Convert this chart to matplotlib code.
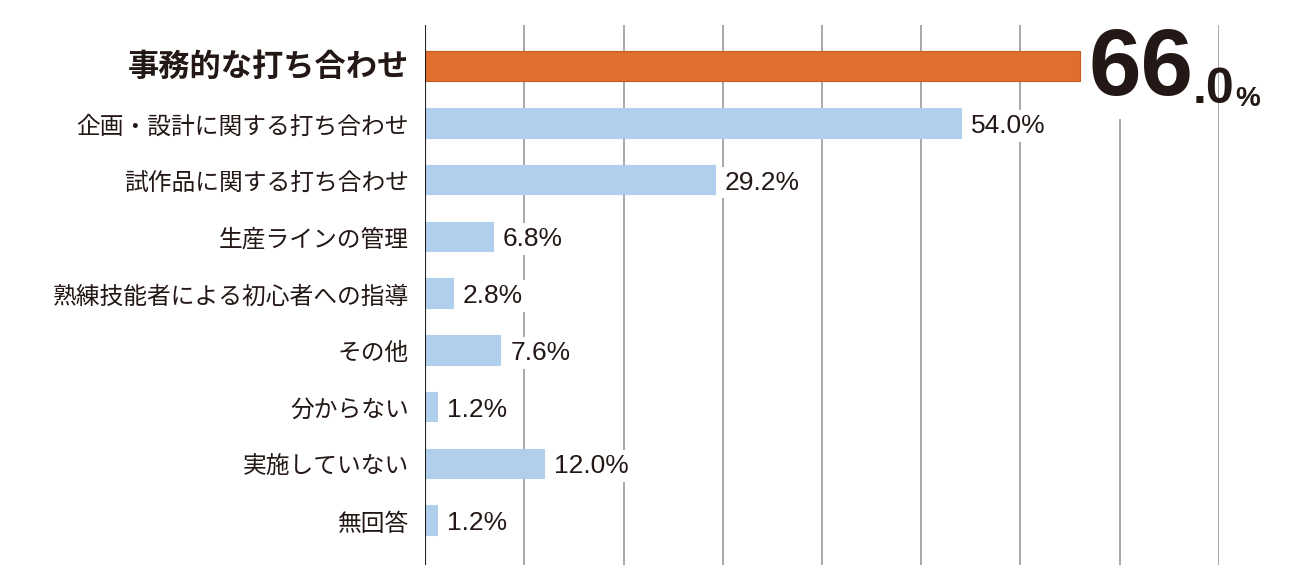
import matplotlib
matplotlib.use('Agg')
import matplotlib.pyplot as plt
import numpy as np

# Survey answers (%), top to bottom
categories = ['事務的な打ち合わせ', '企画・設計に関する打ち合わせ', '試作品に関する打ち合わせ',
              '生産ラインの管理', '熟練技能者による初心者への指導', 'その他',
              '分からない', '実施していない', '無回答']
values = [66.0, 54.0, 29.2, 6.8, 2.8, 7.6, 1.2, 12.0, 1.2]

orange = '#E06F2E'
blue = '#B0CFEC'
jp_font = ['Noto Sans CJK JP', 'DejaVu Sans']
num_font = ['Liberation Sans', 'DejaVu Sans']

fig = plt.figure(figsize=(12.95, 5.88), dpi=100)
ax = fig.add_axes([0.3282, 0.039, 0.6131, 0.918])

y = np.arange(len(categories))
colors = [orange] + [blue] * (len(categories) - 1)
edges = ['#C85A1E'] + [blue] * (len(categories) - 1)
ax.barh(y, values, height=0.52, color=colors, edgecolor=edges, linewidth=0.8, zorder=3)

ax.set_xlim(0, 80)
ax.set_ylim(len(categories) - 1 + 0.79, -0.72)

# gridlines every 10%
for gx in range(10, 81, 10):
    ax.axvline(gx, color='#9a9a9a', linewidth=1.2, zorder=1)
ax.axvline(0, color='#222222', linewidth=1.5, zorder=4)

for s in ax.spines.values():
    s.set_visible(False)
ax.set_xticks([])
ax.set_yticks([])

# category labels
for i, cat in enumerate(categories):
    if i == 0:
        ax.text(-1.6, i + 0.02, cat, ha='right', va='center', fontsize=22.5,
                fontweight='bold', family=jp_font, color='#231815')
    else:
        ax.text(-1.6, i + 0.07, cat, ha='right', va='center', fontsize=17.1,
                family=jp_font, color='#231815')

# value labels
wbox = dict(boxstyle='square,pad=0.15', facecolor='white', edgecolor='none')
for i, v in enumerate(values):
    if i == 0:
        continue
    ax.text(v + 1.0, i + 0.05, f'{v:.1f}%', ha='left', va='center', fontsize=19,
            family=num_font, color='#231815', bbox=wbox, zorder=5)

# highlighted value, composed from three pieces
v0 = values[0]
whole, frac = f'{v0:.1f}'.split('.')
t1 = ax.text(v0 + 0.9, 0.5, whole, ha='left', va='baseline', fontsize=68,
             fontweight='bold', family=num_font, color='#231815',
             bbox=dict(boxstyle='square,pad=0.05', facecolor='white', edgecolor='none'),
             zorder=5)
t2 = ax.annotate('.' + frac, xy=(1, 0), xycoords=t1, xytext=(-1, 1),
                 textcoords='offset points', ha='left', va='bottom', fontsize=36,
                 fontweight='bold', family=num_font, color='#231815', zorder=6)
t3 = ax.annotate('%', xy=(1, 0), xycoords=t2, xytext=(1, 1),
                 textcoords='offset points', ha='left', va='bottom', fontsize=20,
                 fontweight='bold', family=num_font, color='#231815', zorder=6)

plt.savefig('out.png', dpi=100)
